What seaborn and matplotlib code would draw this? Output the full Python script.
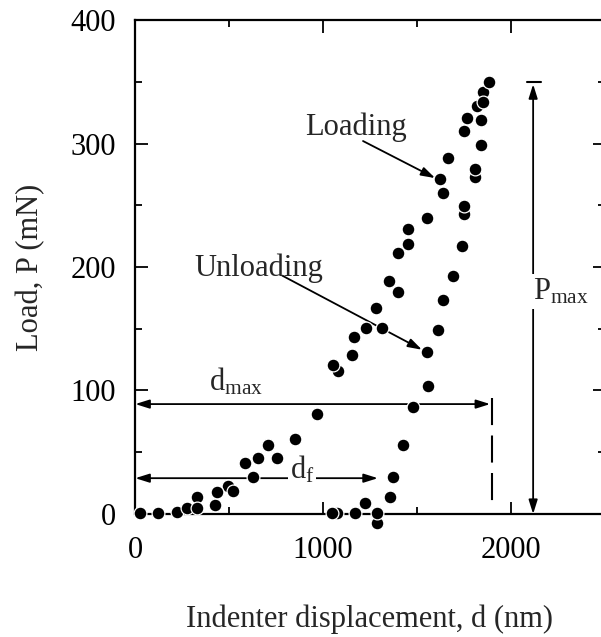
import matplotlib
matplotlib.use("Agg")
import matplotlib.pyplot as plt
import pandas as pd
import seaborn as sns
from matplotlib.ticker import MultipleLocator

# Loading branch (displacement nm, load mN)
load_d = [25, 121, 222, 275, 329, 329, 425, 494, 435, 521, 584, 627, 654, 707, 755, 851,
          968, 1080, 1053, 1154, 1165, 1229, 1282, 1314, 1351, 1399, 1399, 1453, 1453,
          1554, 1623, 1639, 1666, 1752, 1767, 1820, 1852, 1884]
load_p = [1, 1, 2, 5, 14, 5, 7, 23, 18, 19, 41, 30, 45, 56, 45, 61,
          81, 116, 121, 129, 143, 151, 167, 151, 189, 180, 211, 219, 231,
          240, 271, 260, 288, 310, 321, 330, 342, 350]

# Unloading branch
unload_d = [1852, 1842, 1842, 1810, 1810, 1752, 1752, 1741, 1693, 1639, 1612, 1554,
            1559, 1479, 1426, 1372, 1358, 1288, 1288, 1225, 1170, 1075, 1048]
unload_p = [334, 319, 299, 273, 279, 243, 249, 217, 193, 173, 149, 131,
            104, 87, 56, 30, 14, -7, 1, 9, 1, 1, 1]

df = pd.DataFrame({
    "d": load_d + unload_d,
    "P": load_p + unload_p,
    "branch": ["Loading"] * len(load_d) + ["Unloading"] * len(unload_d),
})

sns.set_theme(style="ticks")
plt.rcParams["font.family"] = ["Liberation Serif", "DejaVu Serif"]
plt.rcParams["mathtext.fontset"] = "custom"
plt.rcParams["mathtext.rm"] = "Liberation Serif"
plt.rcParams["mathtext.it"] = "Liberation Serif:italic"

fs = 22
fig = plt.figure(figsize=(6.01, 6.37), dpi=100)
ax = fig.add_axes([0.2251, 0.1931, 0.781, 0.7755])

sns.scatterplot(data=df, x="d", y="P", color="black", s=85, edgecolor="white",
                linewidth=0.9, legend=False, zorder=3, clip_on=False, ax=ax)

ax.set_xlim(0, 2500)
ax.set_ylim(0, 400)
ax.xaxis.set_major_locator(MultipleLocator(1000))
ax.xaxis.set_minor_locator(MultipleLocator(500))
ax.yaxis.set_major_locator(MultipleLocator(100))
ax.yaxis.set_minor_locator(MultipleLocator(50))
ax.tick_params(which="both", direction="in", top=True, right=True, width=1.3,
               labelsize=fs, colors="black")
ax.tick_params(which="major", length=9)
ax.tick_params(which="minor", length=5)
ax.tick_params(axis="x", pad=16)
ax.tick_params(axis="y", pad=14)
for sp in ax.spines.values():
    sp.set_linewidth(1.6)
    sp.set_color("black")

ax.set_xlabel("Indenter displacement, d (nm)", fontsize=fs, labelpad=28)
ax.set_ylabel("Load, P (mN)", fontsize=fs, labelpad=18)

one = dict(arrowstyle="-|>,head_length=0.7,head_width=0.22", color="black", lw=1.3,
           shrinkA=0, shrinkB=0)
two = dict(arrowstyle="<|-|>,head_length=0.7,head_width=0.22", color="black", lw=1.3,
           shrinkA=0, shrinkB=0)

# labelled arrows
ax.annotate("", xy=(1597, 272), xytext=(1213, 302), arrowprops=one, zorder=2)
ax.text(1177, 313, "Loading", fontsize=fs, ha="center", va="center")
ax.annotate("", xy=(1527, 133), xytext=(783, 193), arrowprops=one, zorder=2)
ax.text(660, 199, "Unloading", fontsize=fs, ha="center", va="center")

# d_max, d_f
ax.annotate("", xy=(1890, 89), xytext=(0, 89), arrowprops=two, zorder=2)
ax.text(538, 107, r"d$_{\rm max}$", fontsize=fs, ha="center", va="center")
ax.annotate("", xy=(1292, 29), xytext=(0, 29), arrowprops=two, zorder=2)
ax.text(889, 36, r"d$_{\rm f}$", fontsize=fs, ha="center", va="center", zorder=2.5,
        bbox=dict(facecolor="white", edgecolor="none", pad=1))
ax.plot([1900, 1900], [94, 10], color="black", lw=1.5, ls=(0, (13, 5)), zorder=2)

# P_max
ax.annotate("", xy=(2119, 0), xytext=(2119, 348), arrowprops=two, zorder=2,
            annotation_clip=False)
ax.plot([2087, 2161], [350, 350], color="black", lw=1.5, zorder=2)
ax.text(2268, 180, r"P$_{\rm max}$", fontsize=fs, ha="center", va="center", zorder=2.5,
        bbox=dict(facecolor="white", edgecolor="none", pad=2))

fig.savefig("out.png", dpi=100)
